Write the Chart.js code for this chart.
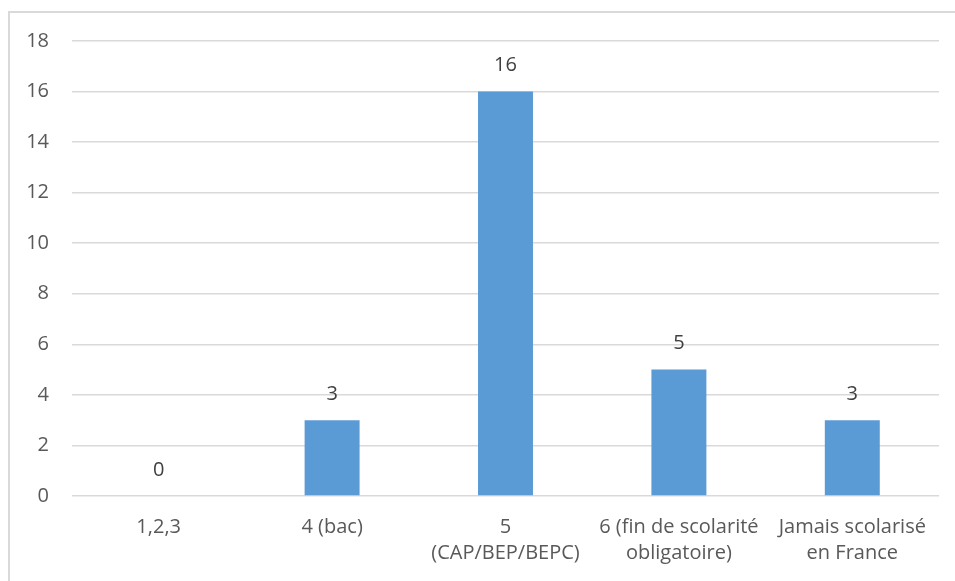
<!DOCTYPE html>
<html>
<head>
<meta charset="utf-8">
<script src="https://cdn.jsdelivr.net/npm/chart.js@4"></script>
<style>
  html, body { margin: 0; padding: 0; background: #fff; }
  #frame {
    position: absolute;
    left: 8px;
    top: 11px;
    width: 945px;
    height: 568px;
    border-left: 2px solid #d9d9d9;
    border-top: 2px solid #d9d9d9;
  }
</style>
</head>
<body>
<div id="frame"><canvas id="myChart"></canvas></div>
<script>
// categories and values
const categories = [
  "1,2,3",
  "4 (bac)",
  ["5", "(CAP/BEP/BEPC)"],
  ["6 (fin de scolarité", "obligatoire)"],
  ["Jamais scolarisé", "en France"]
];
const counts = [0, 3, 16, 5, 3];
const yTicks = [0, 2, 4, 6, 8, 10, 12, 14, 16, 18];

const fontFamily = "'Open Sans', 'Noto Sans', sans-serif";
const textColor = "#595959";

// value labels above each bar
const valueLabels = {
  id: "valueLabels",
  afterDatasetsDraw(chart) {
    const ctx = chart.ctx;
    const meta = chart.getDatasetMeta(0);
    ctx.save();
    ctx.font = "20px " + fontFamily;
    ctx.fillStyle = "#404040";
    ctx.textAlign = "center";
    ctx.textBaseline = "middle";
    meta.data.forEach((bar, i) => {
      ctx.fillText(String(counts[i]), bar.x, bar.y - 26);
    });
    ctx.restore();
  }
};

const ctx = document.getElementById("myChart");
new Chart(ctx, {
  type: "bar",
  data: {
    labels: categories,
    datasets: [
      {
        label: "Effectif",
        data: counts,
        backgroundColor: "#5b9bd5",
        borderWidth: 0,
        categoryPercentage: 1,
        barPercentage: 0.317
      }
    ]
  },
  options: {
    responsive: true,
    maintainAspectRatio: false,
    animation: false,
    layout: { padding: { top: 28, right: 16, left: 0, bottom: 0 } },
    plugins: {
      legend: { display: false },
      tooltip: { enabled: false }
    },
    scales: {
      x: {
        grid: { display: false },
        border: { display: false },
        ticks: {
          color: textColor,
          padding: 10,
          maxRotation: 0,
          autoSkip: false,
          font: { family: fontFamily, size: 20, lineHeight: 1.3 }
        },
        afterFit(scale) { scale.height = 85; }
      },
      y: {
        min: 0,
        max: 18,
        afterBuildTicks(scale) {
          scale.ticks = yTicks.map(v => ({ value: v }));
        },
        grid: { color: "#d9d9d9", lineWidth: 1.5, drawTicks: false },
        border: { display: false },
        ticks: {
          color: textColor,
          padding: 23,
          font: { family: fontFamily, size: 20 }
        },
        afterFit(scale) {
          scale.width = 62;
          scale.paddingTop = 0;
          scale.paddingBottom = 0;
        }
      }
    }
  },
  plugins: [valueLabels]
});
</script>
</body>
</html>
